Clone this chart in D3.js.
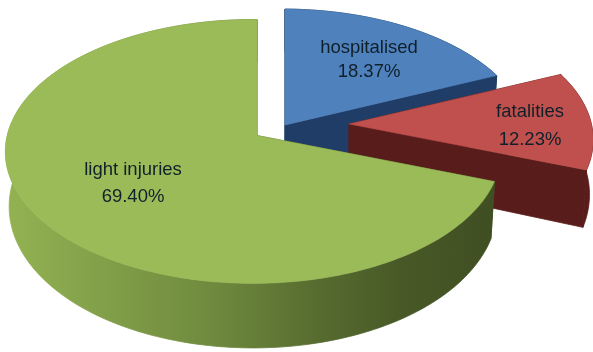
<!DOCTYPE html>
<html><head><meta charset="utf-8">
<script src="https://cdn.jsdelivr.net/npm/d3@7/dist/d3.min.js"></script>
<style>html,body{margin:0;padding:0;background:#fff}svg{display:block;filter:blur(0.45px)}
text{font-family:"Liberation Sans",Arial,sans-serif;text-anchor:middle}</style>
</head><body><svg id="c" width="593" height="352"></svg>
<script>
const categories = ["hospitalised", "fatalities", "light injuries"];
const values = [18.37, 12.23, 69.40];
const valueLabels = ["18.37%", "12.23%", "69.40%"];

// layout and styling, separate from the data
const topColors = ["#4f81bd", "#c0504d", "#9bbb59"];
const sideColors = ["#1f3d66", "#581c1b", "url(#greenSide)"];
const apexes = [[285, 125], [349, 124], [257, 135.5]];
const labelAt = [[369, 53, 77], [530, 117, 145], [133, 175, 202]];
const R = 246, S = 130, K = 0.121, M = 0.015;

function project(apex, a, r) {
  const X = r * Math.sin(a), Y = r * Math.cos(a);
  const w = 1 + K * Y + M * X;
  const depth = 53.5 - 11 * Y;
  return {
    top: [apex[0] + R * X / w, apex[1] - S * Y / w],
    bottom: [apex[0] + R * X / w * 0.985, apex[1] - S * Y / w + depth]
  };
}

const svg = d3.select("#c");
const grad = svg.append("defs").append("linearGradient")
  .attr("id", "greenSide").attr("gradientUnits", "userSpaceOnUse")
  .attr("x1", 5).attr("x2", 500).attr("y1", 0).attr("y2", 0);
[[0, "#93b352"], [0.2, "#829f49"], [0.42, "#6f8a3e"], [0.62, "#586d30"], [0.8, "#485927"], [1, "#3f4e22"]]
  .forEach(s => grad.append("stop").attr("offset", s[0]).attr("stop-color", s[1]));

const arcs = d3.pie().sort(null)(values);
const line = d3.line();
const order = [0, 1, 2];

order.forEach(i => {
  const d = arcs[i], apex = apexes[i];
  const n = Math.ceil((d.endAngle - d.startAngle) * 40);
  const angles = d3.range(n + 1).map(k => d.startAngle + (d.endAngle - d.startAngle) * k / n);
  const rim = angles.map(a => project(apex, a, 1));
  const c = project(apex, 0, 0);
  const g = svg.append("g");
  // outer wall
  g.append("path")
    .attr("d", line(rim.map(p => p.top).concat(rim.map(p => p.bottom).reverse())) + "Z")
    .attr("fill", sideColors[i]).attr("stroke", sideColors[i]).attr("stroke-width", 0.8);
  // cut faces
  [rim[0], rim[rim.length - 1]].forEach(p => {
    g.append("path")
      .attr("d", line([c.top, p.top, p.bottom, c.bottom]) + "Z")
      .attr("fill", sideColors[i]).attr("stroke", sideColors[i]).attr("stroke-width", 0.8);
  });
  // top face
  g.append("path")
    .attr("d", line([c.top].concat(rim.map(p => p.top))) + "Z")
    .attr("fill", topColors[i]).attr("stroke", topColors[i]).attr("stroke-width", 0.5);
});

categories.forEach((name, i) => {
  const p = labelAt[i];
  svg.append("text").attr("x", p[0]).attr("y", p[1]).attr("font-size", 18.5).attr("fill", "#10202a").text(name);
  svg.append("text").attr("x", p[0]).attr("y", p[2]).attr("font-size", 18.5).attr("fill", "#10202a").text(valueLabels[i]);
});
</script></body></html>
